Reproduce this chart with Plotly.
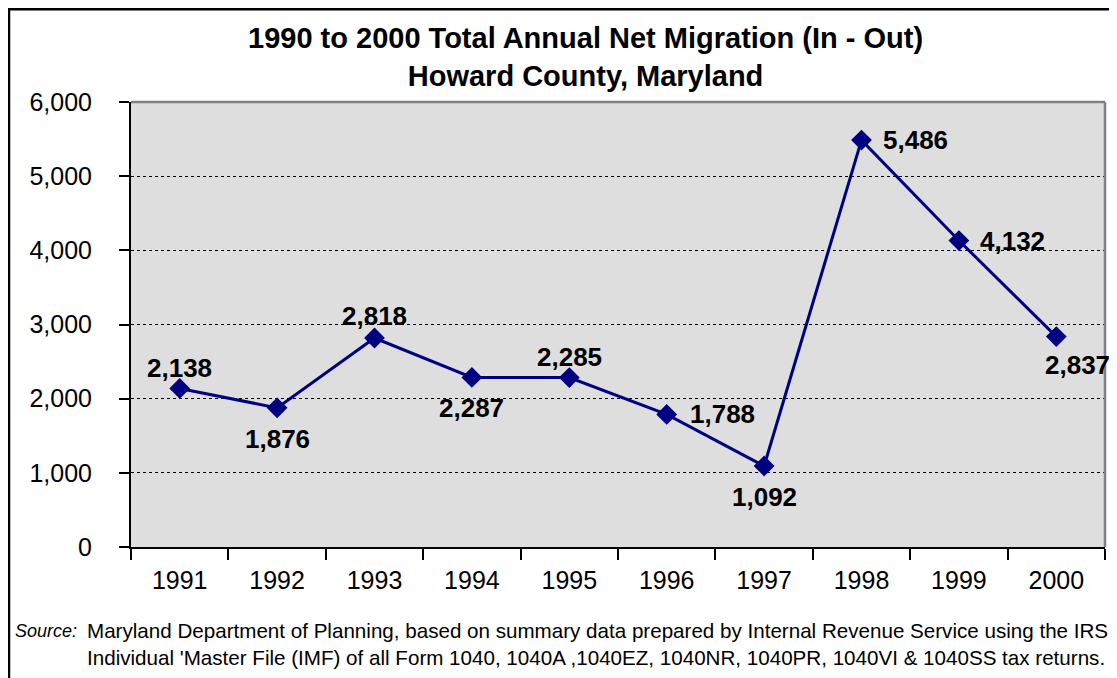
import plotly.graph_objects as go

# ---- data ----
years = ["1991", "1992", "1993", "1994", "1995", "1996", "1997", "1998", "1999", "2000"]
net_migration = [2138, 1876, 2818, 2287, 2285, 1788, 1092, 5486, 4132, 2837]
y_tick_values = [0, 1000, 2000, 3000, 4000, 5000, 6000]
y_tick_labels = ["0", "1,000", "2,000", "3,000", "4,000", "5,000", "6,000"]
title_lines = ["1990 to 2000 Total Annual Net Migration (In - Out)", "Howard County, Maryland"]
source_label = "Source:"
source_lines = [
    "Maryland Department of Planning, based on summary data prepared by Internal Revenue Service using the IRS",
    "Individual 'Master File (IMF) of all Form 1040, 1040A ,1040EZ, 1040NR, 1040PR, 1040VI & 1040SS tax returns.",
]

# ---- layout geometry (reference pixels; page body has an 8px margin) ----
OFF = 8
W, H = 1117 - OFF, 678 - OFF
L, R, T, B = 131 - OFF, 12, 102 - OFF, 139 - OFF
PW, PH = W - L - R, H - T - B

def px(x):
    return (x - OFF - L) / PW

def py(y):
    return (H - B - (y - OFF)) / PH

FONT = "Arial, 'Liberation Sans', sans-serif"
NAVY = "#000080"

# data label offsets in pixels (dx right, dy down)
label_dx = [0, 0, 0, 0, 0, 56, 0, 54, 54, 21]
label_dy = [-20, 31, -22, 31, -21, 0, 31, 0, 0, 28]

fig = go.Figure()
fig.add_trace(go.Scatter(
    x=years, y=net_migration, mode="lines+markers",
    line=dict(color=NAVY, width=3),
    marker=dict(symbol="diamond", size=16, color=NAVY),
    hoverinfo="x+y", showlegend=False,
))

annotations = []
for i, (v, dx, dy) in enumerate(zip(net_migration, label_dx, label_dy)):
    annotations.append(dict(
        x=i, y=v, xref="x", yref="y", text=f"{v:,}", showarrow=False,
        xshift=dx, yshift=-dy, xanchor="center", yanchor="middle",
        font=dict(family=FONT, size=26, color="black", weight="bold"),
    ))

annotations.append(dict(
    x=px(585), y=py(57), xref="paper", yref="paper",
    text="<br>".join(title_lines), showarrow=False,
    xanchor="center", yanchor="middle", align="center",
    font=dict(family=FONT, size=29, color="black", weight="bold"),
))
annotations.append(dict(
    x=px(13), y=py(631), xref="paper", yref="paper",
    text=f"<i>{source_label}</i>", showarrow=False,
    xanchor="left", yanchor="middle",
    font=dict(family=FONT, size=18, color="black"),
))
annotations.append(dict(
    x=px(85), y=py(644), xref="paper", yref="paper",
    text="<br>".join(source_lines), showarrow=False,
    xanchor="left", yanchor="middle", align="left",
    font=dict(family=FONT, size=20.6, color="black"),
))

shapes = [
    # outer chart border
    dict(type="rect", xref="paper", yref="paper",
         x0=px(9), x1=px(1140), y0=py(700), y1=py(9.2),
         line=dict(color="black", width=2.5), layer="above"),
    # gray plot-area border top and right
    dict(type="line", xref="paper", yref="paper", x0=0, x1=1, y0=1, y1=1,
         line=dict(color="#808080", width=2.5), layer="above"),
    dict(type="line", xref="paper", yref="paper", x0=1, x1=1, y0=0, y1=1,
         line=dict(color="#808080", width=2.5), layer="above"),
]

fig.update_layout(
    width=W, height=H,
    margin=dict(l=L, r=R, t=T, b=B, pad=0),
    paper_bgcolor="white", plot_bgcolor="#DEDEDE",
    font=dict(family=FONT, color="black"),
    annotations=annotations, shapes=shapes, showlegend=False,
)
fig.update_xaxes(
    type="category", range=[-0.5, 9.5], tickson="boundaries",
    ticks="outside", ticklen=11, tickwidth=2, tickcolor="black",
    showline=True, linecolor="black", linewidth=2, showgrid=False,
    tickfont=dict(family=FONT, size=25, color="black"), ticklabelstandoff=10,
    fixedrange=True,
)
fig.update_yaxes(
    range=[0, 6000], tickvals=y_tick_values, ticktext=y_tick_labels,
    ticks="outside", ticklen=10, tickwidth=2, tickcolor="black",
    showline=True, linecolor="black", linewidth=2,
    showgrid=True, gridcolor="black", gridwidth=1, griddash="dot",
    zeroline=False,
    tickfont=dict(family=FONT, size=25, color="black"), ticklabelstandoff=22,
    fixedrange=True,
)

fig.write_html("out.html")
